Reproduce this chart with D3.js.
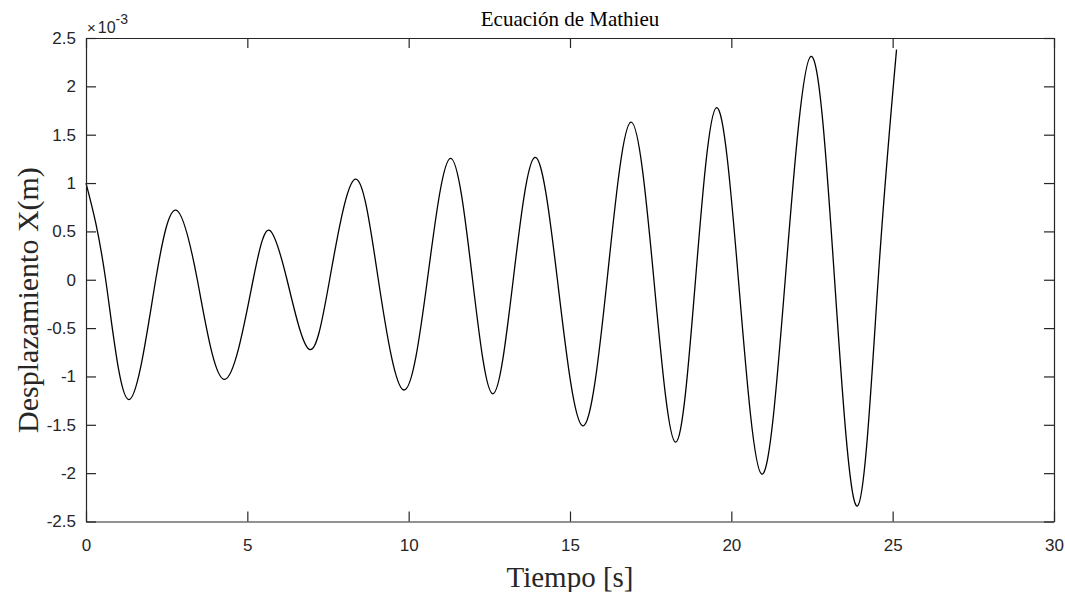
<!DOCTYPE html>
<html>
<head>
<meta charset="utf-8">
<script src="https://cdn.jsdelivr.net/npm/d3@7"></script>
<style>
  html, body { margin: 0; padding: 0; background: #fff; }
  svg { display: block; }
</style>
</head>
<body>
<svg id="chart" width="1065" height="592"></svg>
<script>
// Respuesta de la ecuación de Mathieu: extremos y cruces por cero
// tiempo en segundos, desplazamiento en unidades de 1e-3 m
const tiempo = [
  0, 0.61, 1.33, 2.16, 2.79, 3.45, 4.30, 5.18, 5.69, 6.23,
  6.92, 7.55, 8.34, 9.06, 9.85, 10.58, 11.30, 11.98, 12.61, 13.24,
  13.91, 14.61, 15.39, 16.15, 16.89, 17.60, 18.27, 18.89, 19.54, 20.22,
  20.94, 21.67, 22.47, 23.20, 23.91, 24.55, 25.12
];
const desplazamiento = [
  1.00, 0, -1.24, 0, 0.72, 0, -1.03, 0, 0.51, 0,
  -0.72, 0, 1.04, 0, -1.14, 0, 1.255, 0, -1.18, 0,
  1.265, 0, -1.51, 0, 1.63, 0, -1.68, 0, 1.78, 0,
  -2.01, 0, 2.31, 0, -2.34, 0, 2.38
];

const xTicks = [0, 5, 10, 15, 20, 25, 30];
const yTicks = [-2.5, -2, -1.5, -1, -0.5, 0, 0.5, 1, 1.5, 2, 2.5];
const titulo = "Ecuación de Mathieu";
const etiquetaX = "Tiempo [s]";
const etiquetaY = "Desplazamiento X(m)";

const svg = d3.select("#chart");
const margin = { left: 86, top: 38, right: 1054, bottom: 521.5 };
const axisColor = "#262626";
const tickLen = 10;

const x = d3.scaleLinear().domain([0, 30]).range([margin.left, margin.right]);
const y = d3.scaleLinear().domain([-2.5, 2.5]).range([margin.bottom, margin.top]);

const fmt = d => String(d);
const tickFont = "'Liberation Sans', Arial, Helvetica, sans-serif";
const serif = "'Liberation Serif', 'Times New Roman', Times, serif";

// Curva
const datos = tiempo.map((t, i) => ({ t, v: desplazamiento[i] }));
const linea = d3.line()
  .x(d => x(d.t))
  .y(d => y(d.v))
  .curve(d3.curveNatural);

svg.append("path")
  .datum(datos)
  .attr("d", linea)
  .attr("fill", "none")
  .attr("stroke", "#000")
  .attr("stroke-width", 1.3);

// Ejes con marcas hacia dentro en los cuatro lados
function styleAxis(g) {
  g.selectAll("path").attr("stroke", axisColor).attr("stroke-width", 1.2);
  g.selectAll("line").attr("stroke", axisColor).attr("stroke-width", 1.2);
  g.selectAll("text").attr("fill", axisColor).attr("font-family", tickFont).attr("font-size", 17);
}

const gBottom = svg.append("g")
  .attr("transform", `translate(0,${margin.bottom})`)
  .call(d3.axisBottom(x).tickValues(xTicks).tickFormat(fmt).tickSizeInner(-tickLen).tickSizeOuter(0).tickPadding(17));
styleAxis(gBottom);

const gTop = svg.append("g")
  .attr("transform", `translate(0,${margin.top})`)
  .call(d3.axisTop(x).tickValues(xTicks).tickFormat("").tickSizeInner(-tickLen).tickSizeOuter(0));
styleAxis(gTop);

const gLeft = svg.append("g")
  .attr("transform", `translate(${margin.left},0)`)
  .call(d3.axisLeft(y).tickValues(yTicks).tickFormat(fmt).tickSizeInner(-tickLen).tickSizeOuter(0).tickPadding(10));
styleAxis(gLeft);

const gRight = svg.append("g")
  .attr("transform", `translate(${margin.right},0)`)
  .call(d3.axisRight(y).tickValues(yTicks).tickFormat("").tickSizeInner(-tickLen).tickSizeOuter(0));
styleAxis(gRight);

// Factor de escala del eje y
const exp = svg.append("text")
  .attr("x", margin.left + 1)
  .attr("y", 33)
  .attr("font-family", tickFont)
  .attr("font-size", 16)
  .attr("fill", axisColor);
exp.append("tspan").text("\u00d7").attr("font-size", 15);
exp.append("tspan").text("10").attr("dx", 2);
exp.append("tspan").text("-3").attr("font-size", 14).attr("dy", -9);

// Título y etiquetas
svg.append("text")
  .attr("x", (margin.left + margin.right) / 2)
  .attr("y", 26)
  .attr("text-anchor", "middle")
  .attr("font-family", serif)
  .attr("font-size", 21)
  .attr("fill", "#000")
  .text(titulo);

svg.append("text")
  .attr("x", (margin.left + margin.right) / 2)
  .attr("y", 587)
  .attr("text-anchor", "middle")
  .attr("font-family", serif)
  .attr("font-size", 29)
  .attr("fill", axisColor)
  .text(etiquetaX);

svg.append("text")
  .attr("transform", `translate(38,300) rotate(-90)`)
  .attr("text-anchor", "middle")
  .attr("font-family", serif)
  .attr("font-size", 30)
  .attr("fill", axisColor)
  .text(etiquetaY);
</script>
</body>
</html>
